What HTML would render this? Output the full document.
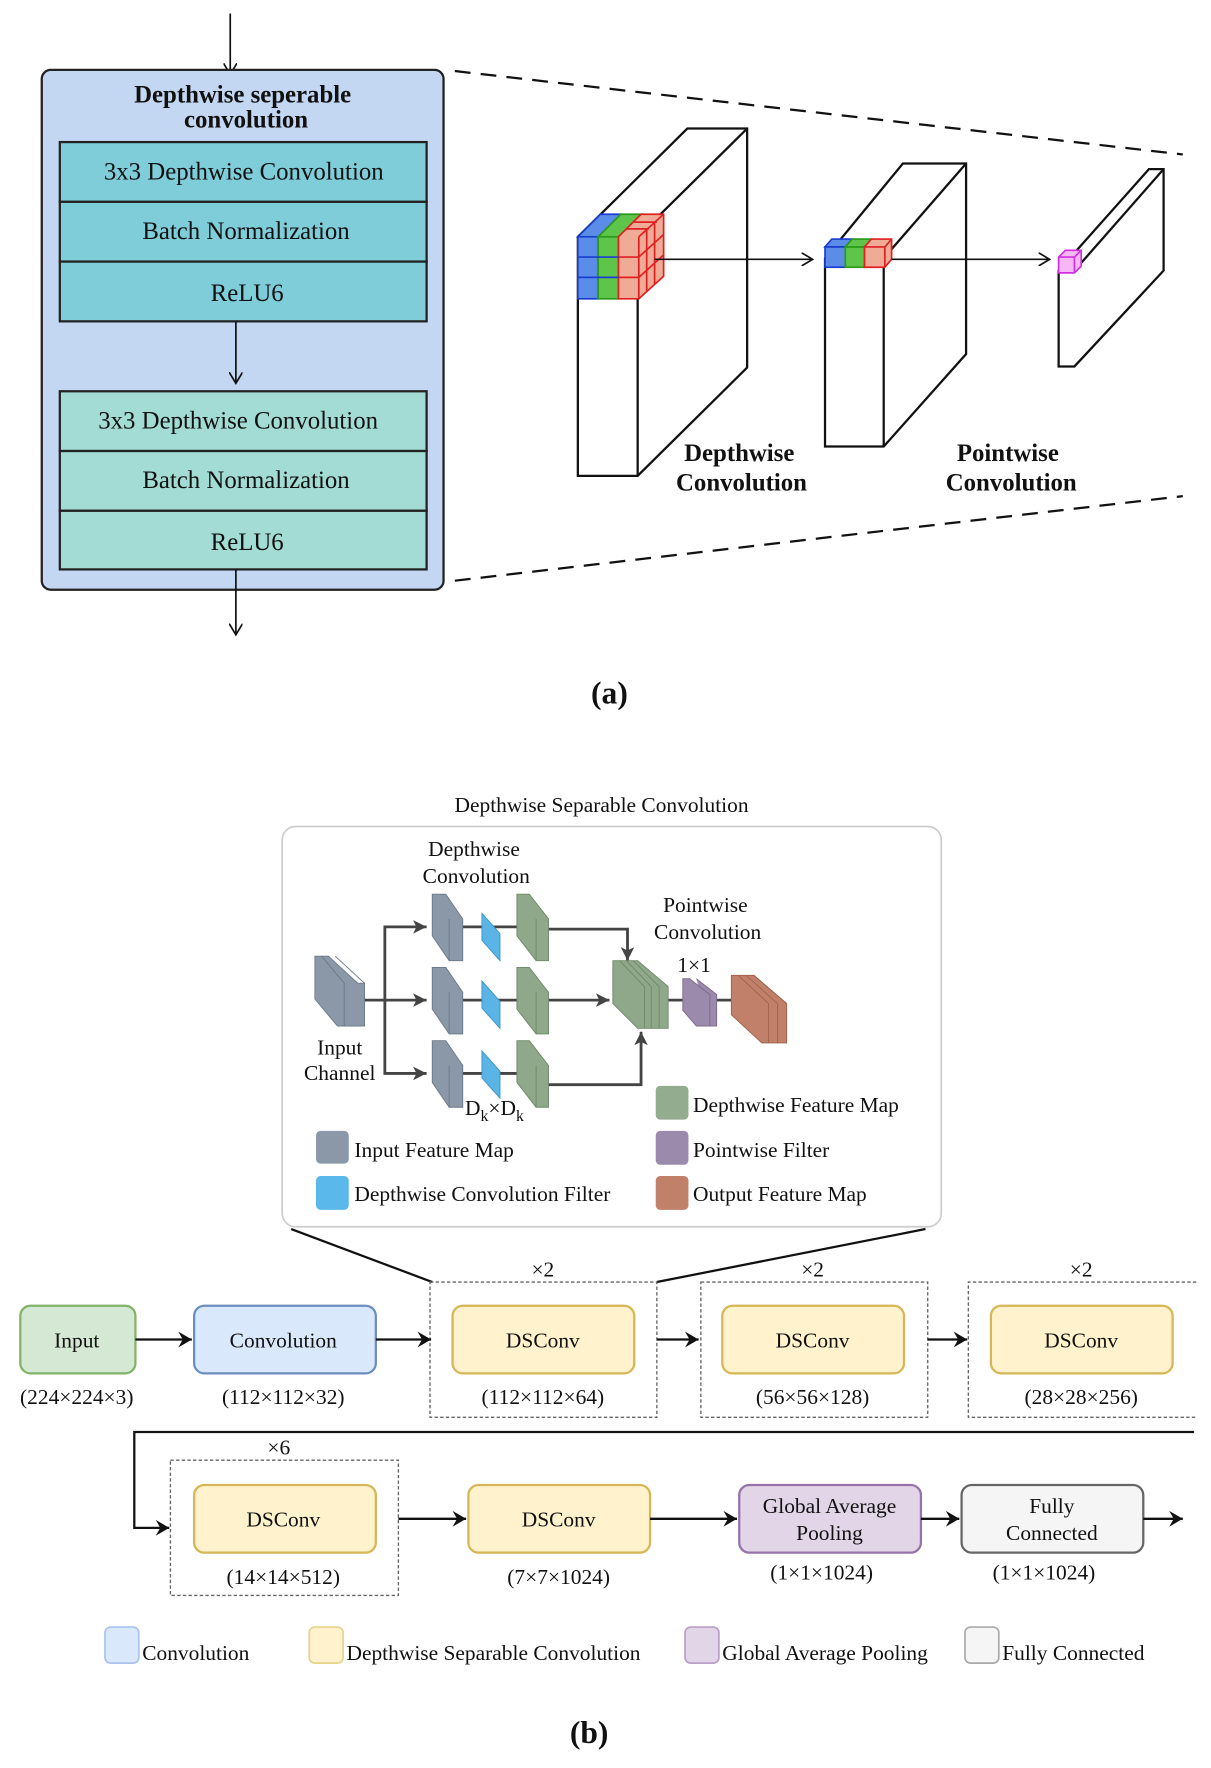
<!DOCTYPE html>
<html><head><meta charset="utf-8"><style>
html,body{margin:0;padding:0;background:#fff;}
svg{display:block;}
text{font-family:"Liberation Serif",serif;fill:#111;}
</style></head><body>
<svg width="1211" height="1768" viewBox="0 0 1073 1568" preserveAspectRatio="none" xmlns="http://www.w3.org/2000/svg">
<defs>
<marker id="a1" markerWidth="12" markerHeight="12" refX="10" refY="6" orient="auto" markerUnits="userSpaceOnUse"><path d="M0,0 L10,6 L0,12" fill="none" stroke="#111" stroke-width="1.5"/></marker>
<marker id="a2" markerWidth="14" markerHeight="14" refX="12" refY="7" orient="auto" markerUnits="userSpaceOnUse"><path d="M0,0 L12,7 L0,14 L4,7z" fill="#111"/></marker>
<marker id="a3" markerWidth="14" markerHeight="14" refX="12" refY="7" orient="auto" markerUnits="userSpaceOnUse"><path d="M0,1 L12,7 L0,13 L3,7z" fill="#444"/></marker>
</defs>

<!-- (a) -->
<line x1="204" y1="12" x2="204" y2="66" stroke="#111" stroke-width="1.5" marker-end="url(#a1)"/>
<rect x="37" y="62" width="356" height="461" rx="8" fill="#c3d7f2" stroke="#222" stroke-width="2"/>
<text x="215" y="91" font-size="22" font-weight="bold" text-anchor="middle">Depthwise seperable</text>
<text x="218" y="113" font-size="22" font-weight="bold" text-anchor="middle">convolution</text>
<g stroke="#222" stroke-width="2">
<rect x="53" y="126" width="325" height="53" fill="#7ecdd9"/>
<rect x="53" y="179" width="325" height="53" fill="#7ecdd9"/>
<rect x="53" y="232" width="325" height="53" fill="#7ecdd9"/>
<rect x="53" y="347" width="325" height="53" fill="#a3dcd4"/>
<rect x="53" y="400" width="325" height="53" fill="#a3dcd4"/>
<rect x="53" y="453" width="325" height="52" fill="#a3dcd4"/>
</g>
<g font-size="22" text-anchor="middle">
<text x="216" y="159">3x3 Depthwise Convolution</text>
<text x="218" y="212">Batch Normalization</text>
<text x="219" y="267">ReLU6</text>
<text x="211" y="380">3x3 Depthwise Convolution</text>
<text x="218" y="433">Batch Normalization</text>
<text x="219" y="488">ReLU6</text>
</g>
<line x1="209" y1="285" x2="209" y2="340" stroke="#111" stroke-width="1.5" marker-end="url(#a1)"/>
<line x1="209" y1="505" x2="209" y2="563" stroke="#111" stroke-width="1.5" marker-end="url(#a1)"/>
<line x1="403" y1="63" x2="1048" y2="137" stroke="#111" stroke-width="2" stroke-dasharray="14,9"/>
<line x1="403" y1="515" x2="1048" y2="440" stroke="#111" stroke-width="2" stroke-dasharray="14,9"/>

<g fill="#fff" stroke="#111" stroke-width="2">
<path d="M512,210 L609,114 L662,114 L662,326 L565,422 L512,422z"/>
<path d="M565,210 L662,114 M512,210 L565,210 L565,422"/>
<path d="M731,229 L800,145 L856,145 L856,314 L783,396 L731,396z"/>
<path d="M783,229 L856,145 M731,229 L783,229 L783,396"/>
<path d="M938,240 L1018,150 L1031,150 L1031,240 L952,325 L938,325z"/>
<path d="M952,240 L1031,150"/>
</g>
<g stroke-width="1.5">
<path d="M512,210 L532,190 L550,190 L530,210z" fill="#5b8de8" stroke="#1a3fd0"/>
<rect x="512" y="210" width="18" height="55" fill="#5b8de8" stroke="#1a3fd0"/>
<path d="M530,210 L550,190 L568,190 L548,210z" fill="#5ec54a" stroke="#2a9a1a"/>
<rect x="530" y="210" width="18" height="55" fill="#5ec54a" stroke="#2a9a1a"/>
<path d="M548,210 L568,190 L588,190 L588,245 L566,265 L548,265z" fill="#f0ab96" stroke="#e02020"/>
<path d="M548,228 L566,228 L588,208 M548,246 L566,246 L588,226 M566,210 L566,265 M566,210 L588,190 M573,203 L573,258 M580,197 L580,252 M555,203 L575,203 M562,197 L582,197" fill="none" stroke="#e02020"/>
<path d="M512,228 L548,228 M512,246 L548,246" stroke="#1a3fd0"/>
</g>
<line x1="580" y1="230" x2="720" y2="230" stroke="#111" stroke-width="1.5" marker-end="url(#a1)"/>
<g stroke-width="1.5">
<path d="M731,219 L737,212 L755,212 L749,219z" fill="#5b8de8" stroke="#1a3fd0"/>
<rect x="731" y="219" width="18" height="18" fill="#5b8de8" stroke="#1a3fd0"/>
<rect x="749" y="219" width="17" height="18" fill="#5ec54a" stroke="#2a9a1a"/>
<path d="M749,219 L755,212 L772,212 L766,219z" fill="#5ec54a" stroke="#2a9a1a"/>
<path d="M766,219 L772,212 L790,212 L790,230 L784,237 L766,237z" fill="#f0ab96" stroke="#e02020"/>
<path d="M784,219 L790,212 M784,219 L784,237 M766,219 L784,219" fill="none" stroke="#e02020"/>
</g>
<line x1="790" y1="230" x2="930" y2="230" stroke="#111" stroke-width="1.5" marker-end="url(#a1)"/>
<path d="M938,228 L944,222 L958,222 L958,236 L952,242 L938,242z" fill="#f5b8f5" stroke="#d030e0" stroke-width="1.5"/>
<path d="M938,228 L952,228 L958,222 M952,228 L952,242" fill="none" stroke="#d030e0" stroke-width="1.5"/>
<g font-size="22" font-weight="bold" text-anchor="middle">
<text x="655" y="409">Depthwise</text>
<text x="657" y="435">Convolution</text>
<text x="893" y="409">Pointwise</text>
<text x="896" y="435">Convolution</text>
</g>
<text x="540" y="624" font-size="28" text-anchor="middle" font-weight="bold">(a)</text>

<!-- (b) panel -->
<text x="533" y="720" font-size="19" text-anchor="middle">Depthwise Separable Convolution</text>
<rect x="250" y="733" width="584" height="355" rx="12" fill="#fff" stroke="#ccc" stroke-width="1.5"/>
<g font-size="19" text-anchor="middle" fill="#333">
<text x="420" y="759">Depthwise</text>
<text x="422" y="783">Convolution</text>
<text x="625" y="809">Pointwise</text>
<text x="627" y="833">Convolution</text>
<text x="615" y="862">1×1</text>
<text x="301" y="935">Input</text>
<text x="301" y="958">Channel</text>
<text x="412" y="989" text-anchor="start">D<tspan font-size="14" dy="5">k</tspan><tspan dy="-5">×D</tspan><tspan font-size="14" dy="5">k</tspan></text>
</g>
<g stroke="#444" stroke-width="2.5" fill="none">
<line x1="323" y1="887" x2="378" y2="887" marker-end="url(#a3)"/>
<path d="M341,887 L341,822 L378,822" marker-end="url(#a3)"/>
<path d="M341,887 L341,952 L378,952" marker-end="url(#a3)"/>
<line x1="486" y1="887" x2="540" y2="887" marker-end="url(#a3)"/>
<path d="M486,824 L556,824 L556,852" marker-end="url(#a3)"/>
<path d="M486,962 L568,962 L568,915" marker-end="url(#a3)"/>
<path d="M410,822 L458,822 M410,887 L458,887 M410,952 L458,952 M592,887 L648,887"/>
</g>
<g stroke-width="0.8">
<g fill="#8a98a8" stroke="#6a7888">
<path d="M279,848 L291,848 L311,872 L311,910 L299,910 L279,886z"/><path d="M285,848 L305,872 L305,910 M291,848 L317,872 L323,872 L323,910 L311,910 M297,848 L323,872"/>
<path d="M383,793 L395,793 L410,815 L410,852 L398,852 L383,830z"/><path d="M398,815 L398,852" fill="none"/>
<path d="M383,858 L395,858 L410,880 L410,917 L398,917 L383,895z"/><path d="M398,880 L398,917" fill="none"/>
<path d="M383,923 L395,923 L410,945 L410,982 L398,982 L383,960z"/><path d="M398,945 L398,982" fill="none"/>
</g>
<g fill="#5ab4e6" stroke="#3a94c6">
<path d="M427,810 L443,828 L443,852 L427,834z"/>
<path d="M427,870 L443,888 L443,912 L427,894z"/>
<path d="M427,932 L443,950 L443,974 L427,956z"/>
</g>
<g fill="#8ea889" stroke="#6e8869">
<path d="M458,793 L469,793 L486,815 L486,852 L475,852 L458,830z"/><path d="M475,815 L475,852" fill="none"/>
<path d="M458,858 L469,858 L486,880 L486,917 L475,917 L458,895z"/><path d="M475,880 L475,917" fill="none"/>
<path d="M458,923 L469,923 L486,945 L486,982 L475,982 L458,960z"/><path d="M475,945 L475,982" fill="none"/>
<path d="M543,852 L565,852 L592,875 L592,912 L565,912 L543,890z"/><path d="M549,852 L571,875 L571,912 M555,852 L577,875 L577,912 M561,852 L584,875 L584,912" fill="none"/>
</g>
<g fill="#9b8aab" stroke="#7b6a8b">
<path d="M605,868 L611,868 L623,882 L623,910 L617,910 L605,896z"/><path d="M611,868 L629,882 L629,910 L623,910 M617,868 L635,882 L635,910 L629,910"/>
</g>
<g fill="#c0806a" stroke="#a0604a">
<path d="M648,865 L668,865 L697,890 L697,925 L675,925 L648,900z"/><path d="M654,865 L681,890 L681,925 M661,865 L689,890 L689,925 M668,865 L697,890" fill="none"/>
</g>
</g>
<rect x="280" y="1003" width="29" height="29" rx="4" fill="#8a98a8"/>
<rect x="280" y="1043" width="29" height="30" rx="4" fill="#5ab8ea"/>
<rect x="581" y="963" width="29" height="30" rx="4" fill="#93ab8f"/>
<rect x="581" y="1003" width="29" height="30" rx="4" fill="#9b8aab"/>
<rect x="581" y="1043" width="29" height="30" rx="4" fill="#c0806a"/>
<g font-size="19" fill="#333">
<text x="314" y="1026">Input Feature Map</text>
<text x="314" y="1065">Depthwise Convolution Filter</text>
<text x="614" y="986">Depthwise Feature Map</text>
<text x="614" y="1026">Pointwise Filter</text>
<text x="614" y="1065">Output Feature Map</text>
</g>
<line x1="258" y1="1090" x2="383" y2="1137" stroke="#111" stroke-width="2"/>
<line x1="820" y1="1090" x2="582" y2="1137" stroke="#111" stroke-width="2"/>

<g fill="none" stroke="#666" stroke-width="1.2" stroke-dasharray="3,2">
<rect x="381" y="1137" width="201" height="120"/>
<rect x="621" y="1137" width="201" height="120"/>
<path d="M1060,1137 L858,1137 L858,1257 L1060,1257"/>
<rect x="151" y="1295" width="202" height="120"/>
</g>
<g stroke-width="2">
<rect x="18" y="1158" width="102" height="60" rx="9" fill="#d5e8d4" stroke="#82b366"/>
<rect x="172" y="1158" width="161" height="60" rx="9" fill="#dae8fc" stroke="#6c8ebf"/>
<rect x="401" y="1158" width="161" height="60" rx="9" fill="#fff2cc" stroke="#d6b656"/>
<rect x="640" y="1158" width="161" height="60" rx="9" fill="#fff2cc" stroke="#d6b656"/>
<rect x="878" y="1158" width="161" height="60" rx="9" fill="#fff2cc" stroke="#d6b656"/>
<rect x="172" y="1317" width="161" height="60" rx="9" fill="#fff2cc" stroke="#d6b656"/>
<rect x="415" y="1317" width="161" height="60" rx="9" fill="#fff2cc" stroke="#d6b656"/>
<rect x="655" y="1317" width="161" height="60" rx="9" fill="#e1d5e7" stroke="#9673a6"/>
<rect x="852" y="1317" width="161" height="60" rx="9" fill="#f5f5f5" stroke="#666"/>
</g>
<g stroke="#111" stroke-width="2" fill="none">
<line x1="120" y1="1188" x2="170" y2="1188" marker-end="url(#a2)"/>
<line x1="333" y1="1188" x2="382" y2="1188" marker-end="url(#a2)"/>
<line x1="582" y1="1188" x2="619" y2="1188" marker-end="url(#a2)"/>
<line x1="822" y1="1188" x2="857" y2="1188" marker-end="url(#a2)"/>
<path d="M1058,1270 L119,1270 L119,1355 L150,1355" marker-end="url(#a2)"/>
<line x1="353" y1="1347" x2="413" y2="1347" marker-end="url(#a2)"/>
<line x1="576" y1="1347" x2="653" y2="1347" marker-end="url(#a2)"/>
<line x1="816" y1="1347" x2="850" y2="1347" marker-end="url(#a2)"/>
<line x1="1013" y1="1347" x2="1048" y2="1347" marker-end="url(#a2)"/>
</g>
<g font-size="19" text-anchor="middle">
<text x="68" y="1195">Input</text>
<text x="251" y="1195">Convolution</text>
<text x="481" y="1195">DSConv</text>
<text x="720" y="1195">DSConv</text>
<text x="958" y="1195">DSConv</text>
<text x="251" y="1354">DSConv</text>
<text x="495" y="1354">DSConv</text>
<text x="735" y="1342">Global Average</text>
<text x="735" y="1366">Pooling</text>
<text x="932" y="1342">Fully</text>
<text x="932" y="1366">Connected</text>
<text x="68" y="1245">(224×224×3)</text>
<text x="251" y="1245">(112×112×32)</text>
<text x="481" y="1245">(112×112×64)</text>
<text x="720" y="1245">(56×56×128)</text>
<text x="958" y="1245">(28×28×256)</text>
<text x="251" y="1405">(14×14×512)</text>
<text x="495" y="1405">(7×7×1024)</text>
<text x="728" y="1401">(1×1×1024)</text>
<text x="925" y="1401">(1×1×1024)</text>
<text x="481" y="1132">×2</text>
<text x="720" y="1132">×2</text>
<text x="958" y="1132">×2</text>
<text x="247" y="1290">×6</text>
</g>
<g stroke-width="1.5">
<rect x="93" y="1443" width="30" height="32" rx="5" fill="#dae8fc" stroke="#a9c4eb"/>
<rect x="274" y="1443" width="30" height="32" rx="5" fill="#fff2cc" stroke="#e8d38a"/>
<rect x="607" y="1443" width="30" height="32" rx="5" fill="#e1d5e7" stroke="#b8a0c6"/>
<rect x="855" y="1443" width="30" height="32" rx="5" fill="#f5f5f5" stroke="#aaa"/>
</g>
<g font-size="19">
<text x="126" y="1472">Convolution</text>
<text x="307" y="1472">Depthwise Separable Convolution</text>
<text x="640" y="1472">Global Average Pooling</text>
<text x="888" y="1472">Fully Connected</text>
</g>
<text x="522" y="1546" font-size="28" text-anchor="middle" font-weight="bold">(b)</text>
</svg>
</body></html>
